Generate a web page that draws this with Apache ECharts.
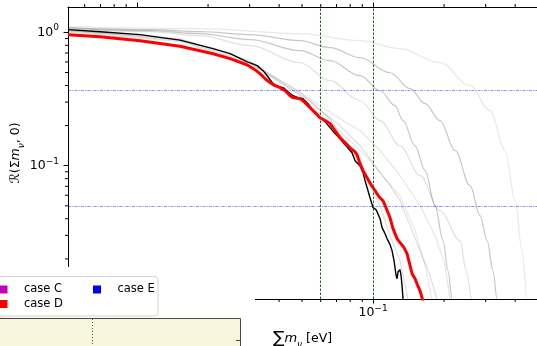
<!DOCTYPE html>
<html><head><meta charset="utf-8">
<script src="https://cdn.jsdelivr.net/npm/echarts@6/dist/echarts.min.js"></script>
<style>html,body{margin:0;padding:0;background:#fff}#c{width:537px;height:346px}</style>
</head><body><div id="c"></div>
<script>
// ---- data ----
const xMajorTicks = [0.01, 0.1];
const xMinorTicks = [0.006,0.007,0.008,0.009,0.02,0.03,0.04,0.05,0.06,0.07,0.08,0.09,0.2,0.3,0.4];
const yMajorTicks = [0.01, 0.1, 1];
const yMinorTicks = [0.02,0.03,0.04,0.05,0.06,0.07,0.08,0.09,0.2,0.3,0.4,0.5,0.6,0.7,0.8,0.9];
const hLineValues = [0.368, 0.05];
const vLineValues = [0.06, 0.1];
const legendCases = ['case C', 'case D', 'case E'];
const legendColors = ['#bf00bf', '#ff0000', '#0000ff'];

const blackCurve = [[0.0051,1.048],[0.00697,1.012],[0.0103,0.961],[0.0152,0.874],[0.021,0.755],[0.0248,0.692],[0.0292,0.603],[0.0323,0.563],[0.0342,0.516],[0.0356,0.473],[0.0377,0.412],[0.0396,0.392],[0.0416,0.385],[0.0436,0.359],[0.0458,0.335],[0.0481,0.324],[0.0505,0.318],[0.053,0.292],[0.0557,0.259],[0.0596,0.229],[0.0626,0.214],[0.0657,0.193],[0.069,0.174],[0.0725,0.159],[0.0768,0.141],[0.0815,0.125],[0.0839,0.109],[0.0855,0.105],[0.0881,0.1],[0.0907,0.0886],[0.0925,0.0772],[0.0952,0.0649],[0.0971,0.0575],[0.1,0.0484],[0.103,0.0468],[0.105,0.046],[0.1071,0.04],[0.1092,0.0343],[0.1124,0.0309],[0.1146,0.0284],[0.118,0.0256],[0.1204,0.023],[0.1227,0.0194],[0.1252,0.015],[0.1264,0.0142],[0.1276,0.016],[0.1301,0.0166],[0.1314,0.015],[0.1327,0.0126],[0.134,0.0099],[0.1353,0.0082]];

const redCurve = [[0.0051,0.961],[0.00697,0.928],[0.0103,0.866],[0.0152,0.788],[0.021,0.692],[0.0248,0.635],[0.0292,0.572],[0.0316,0.525],[0.0332,0.49],[0.0349,0.449],[0.0366,0.42],[0.0384,0.398],[0.0404,0.385],[0.0424,0.365],[0.0445,0.335],[0.0458,0.324],[0.0491,0.318],[0.0515,0.297],[0.0541,0.272],[0.0568,0.25],[0.0596,0.229],[0.0626,0.218],[0.0657,0.207],[0.069,0.183],[0.0725,0.162],[0.0761,0.149],[0.0799,0.136],[0.0839,0.127],[0.0855,0.121],[0.0881,0.1035],[0.0907,0.0918],[0.0943,0.0813],[0.0981,0.072],[0.102,0.0649],[0.106,0.0585],[0.1102,0.0546],[0.1135,0.0484],[0.118,0.0407],[0.1215,0.0337],[0.1264,0.0284],[0.1301,0.0265],[0.1353,0.0243],[0.1393,0.0219],[0.1435,0.0178],[0.1463,0.0155],[0.1507,0.0142],[0.1536,0.013],[0.1582,0.0115],[0.1613,0.0102],[0.1645,0.0089]];

const graySmoothA = [[0.0051,1.085],[0.01135,1.048],[0.0185,1.012],[0.0301,0.961],[0.0491,0.866],[0.0657,0.768],[0.0881,0.646],[0.118,0.498],[0.1435,0.378],[0.1661,0.292],[0.1922,0.218],[0.2226,0.13],[0.2576,0.0708],[0.2841,0.0422],[0.3042,0.0274],[0.3225,0.0163],[0.3353,0.0099],[0.34,0.008]];
const graySmoothB = [[0.0051,1.066],[0.01135,1.03],[0.0185,0.978],[0.0301,0.882],[0.0491,0.729],[0.0657,0.613],[0.0881,0.473],[0.1071,0.365],[0.1239,0.282],[0.134,0.218],[0.1507,0.141],[0.1661,0.0918],[0.1831,0.0501],[0.198,0.0274],[0.2078,0.0163],[0.2162,0.0099],[0.219,0.008]];
const graySmoothC = [[0.0051,1.048],[0.01135,1.012],[0.0185,0.944],[0.0301,0.795],[0.0491,0.592],[0.0657,0.434],[0.0881,0.307],[0.1071,0.218],[0.1301,0.141],[0.1582,0.0841],[0.1922,0.0459],[0.2338,0.0274],[0.2479,0.0163],[0.2627,0.0099],[0.266,0.008]];
const graySmoothD = [[0.0051,1.104],[0.0185,1.066],[0.0491,0.978],[0.0881,0.866],[0.1301,0.755],[0.1922,0.592],[0.2576,0.398],[0.3132,0.259],[0.3626,0.13],[0.3998,0.0546],[0.428,0.023],[0.4494,0.0099],[0.453,0.008]];
const grayWiggleA = [[0.0051,1.03],[0.0152,0.897],[0.0301,0.613],[0.0404,0.434],[0.0491,0.353],[0.0596,0.259],[0.0725,0.2],[0.0881,0.141],[0.102,0.1],[0.118,0.0708],[0.1301,0.0546],[0.1435,0.0355],[0.1582,0.023],[0.1744,0.015],[0.1867,0.0099],[0.19,0.008]];
const grayWiggleB = [[0.0051,1.012],[0.0152,0.866],[0.0301,0.582],[0.0445,0.398],[0.0596,0.282],[0.0725,0.225],[0.0881,0.183],[0.1071,0.13],[0.1301,0.0841],[0.1582,0.0501],[0.1831,0.0299],[0.2019,0.0178],[0.212,0.0099],[0.214,0.008]];
const grayWiggleC = [[0.0051,1.03],[0.0152,0.882],[0.0301,0.592],[0.0404,0.42],[0.0541,0.307],[0.0657,0.225],[0.0799,0.13],[0.0925,0.0841],[0.1071,0.0501],[0.118,0.0299],[0.1301,0.0194],[0.1407,0.0099],[0.143,0.008]];
const grayWiggleD = [[0.0051,0.995],[0.0152,0.852],[0.0332,0.534],[0.0491,0.335],[0.0657,0.21],[0.0799,0.154],[0.0971,0.109],[0.1124,0.0799],[0.1301,0.0593],[0.1507,0.0326],[0.1661,0.0178],[0.1778,0.0099],[0.18,0.008]];

const grayCurves = [
  {data: graySmoothD, a: 0.09, smooth: true},
  {data: graySmoothA, a: 0.22, smooth: true},
  {data: graySmoothB, a: 0.22, smooth: true},
  {data: graySmoothC, a: 0.12, smooth: true},
  {data: grayWiggleA, a: 0.13, smooth: false},
  {data: grayWiggleB, a: 0.10, smooth: false},
  {data: grayWiggleC, a: 0.12, smooth: false},
  {data: grayWiggleD, a: 0.09, smooth: false}
];

// ---- chart ----
const FONT = 'DejaVu Sans';
const X_MIN = 0.0051, X_MAX = 0.495, Y_MIN = 0.01, Y_MAX = 1.55;

function powLabel(v) {
  const e = Math.round(Math.log10(v));
  return '{b|10}{p|' + (e < 0 ? '\u2212' + (-e) : String(e)) + '}';
}
const tickRich = {
  b: {fontFamily: FONT, fontSize: 12.5, color: '#000', lineHeight: 18},
  p: {fontFamily: FONT, fontSize: 9, color: '#000', lineHeight: 9, verticalAlign: 'top'}
};

function logAxis(extra) {
  return Object.assign({
    type: 'log', logBase: 10, gridIndex: 0,
    splitLine: {show: false}, minorTick: {show: false}, minorSplitLine: {show: false}
  }, extra);
}
const lineBlack = {color: '#000', width: 1};

const xAxes = [
  logAxis({position: 'bottom', min: X_MIN, max: X_MAX,
    axisLine: {show: true, onZero: false, lineStyle: lineBlack},
    axisTick: {show: true, customValues: xMajorTicks, length: 4.5, lineStyle: lineBlack},
    axisLabel: {show: true, customValues: xMajorTicks, formatter: powLabel, margin: 5, rich: tickRich},
    name: '{s|\u2211}{i|m}{u|\u03bd}{t| [eV]}', nameLocation: 'middle', nameGap: 30, nameMoveOverlap: false,
    nameTextStyle: {rich: {
      s: {fontFamily: FONT, fontSize: 17, color: '#000', lineHeight: 20},
      i: {fontFamily: FONT, fontSize: 13, fontStyle: 'italic', color: '#000', lineHeight: 20},
      u: {fontFamily: FONT, fontSize: 9, fontStyle: 'italic', color: '#000', lineHeight: 8, verticalAlign: 'bottom'},
      t: {fontFamily: FONT, fontSize: 12.5, color: '#000', lineHeight: 20}
    }}}),
  logAxis({position: 'top', min: X_MIN, max: X_MAX,
    axisLine: {show: true, onZero: false, lineStyle: lineBlack},
    axisTick: {show: true, customValues: xMajorTicks, length: 4.5, lineStyle: lineBlack},
    axisLabel: {show: false}})
];

const yAxes = [
  logAxis({position: 'left', min: Y_MIN, max: Y_MAX,
    axisLine: {show: true, onZero: false, lineStyle: lineBlack},
    axisTick: {show: true, customValues: yMajorTicks, length: 4.5, lineStyle: lineBlack},
    axisLabel: {show: true, customValues: yMajorTicks, formatter: powLabel, margin: 9, rich: tickRich},
    name: '{r|\u211b}{t|(\u03a3}{i|m}{u|\u03bd}{t|, 0)}', nameLocation: 'middle', nameGap: 42, nameRotate: 90,
    nameMoveOverlap: false,
    nameTextStyle: {rich: {
      r: {fontFamily: FONT, fontSize: 13, color: '#000', lineHeight: 20},
      t: {fontFamily: FONT, fontSize: 12.5, color: '#000', lineHeight: 20},
      i: {fontFamily: FONT, fontSize: 12.5, fontStyle: 'italic', color: '#000', lineHeight: 20},
      u: {fontFamily: FONT, fontSize: 9, fontStyle: 'italic', color: '#000', lineHeight: 8, verticalAlign: 'bottom'}
    }}})
];

const series = [];
grayCurves.forEach((g) => {
  series.push({type: 'line', data: g.data, xAxisIndex: 0, yAxisIndex: 0, symbol: 'none', silent: true,
    smooth: g.smooth ? 0.35 : false, smoothMonotone: 'x',
    z: 2, lineStyle: {color: 'rgba(0,0,0,' + g.a + ')', width: 1.2}, clip: true});
});
series.push({type: 'line', name: 'hlines', data: [], symbol: 'none', silent: true, z: 1,
  color: 'rgba(0,0,255,0.5)',
  markLine: {symbol: ['none', 'none'], silent: true, label: {show: false}, animation: false,
    lineStyle: {color: 'rgba(0,0,255,0.45)', width: 1, type: [3, 1.2, 1, 1.2]},
    data: hLineValues.map(v => ({yAxis: v}))}});
series.push({type: 'line', name: 'vlines', data: [], symbol: 'none', silent: true, z: 1,
  color: '#1e6e1e',
  markLine: {symbol: ['none', 'none'], silent: true, label: {show: false}, animation: false,
    lineStyle: {color: '#1e6e1e', width: 1, type: [2.5, 1.5]},
    data: vLineValues.map(v => ({xAxis: v}))}});
series.push({type: 'line', name: 'black', data: blackCurve, symbol: 'none', silent: true, z: 3,
  lineStyle: {color: '#000', width: 1.4}, clip: true});
series.push({type: 'line', name: 'red', data: redCurve, symbol: 'none', silent: true, z: 4,
  lineStyle: {color: '#ff0000', width: 3}, clip: true});

// minor ticks as tiny rect symbols placed through the axes' scales
const tickSeries = (data, size, offset) => ({
  type: 'scatter', data: data, symbol: 'rect', symbolSize: size, symbolOffset: offset,
  silent: true, clip: false, z: 5, itemStyle: {color: '#000', opacity: 1}, emphasis: {disabled: true}
});
series.push(tickSeries(xMinorTicks.map(v => [v, Y_MIN]), [1, 3], [0, 1.5]));
series.push(tickSeries(xMinorTicks.map(v => [v, Y_MAX]), [1, 3], [0, -1.5]));
series.push(tickSeries(yMinorTicks.map(v => [X_MIN, v]), [3, 1], [-1.5, 0]));

legendCases.forEach((n, i) => {
  series.push({type: 'scatter', name: n, data: [], itemStyle: {color: legendColors[i], opacity: 1}});
});

const legendCommon = {
  orient: 'vertical', padding: 0, itemGap: 1.5, itemWidth: 31, itemHeight: 8,
  icon: 'path://M0,0H8V8H0Z', selectedMode: false, z: 120,
  itemStyle: {opacity: 1},
  textStyle: {fontFamily: FONT, fontSize: 11.5, color: '#000', lineHeight: 13}
};

const chart = echarts.init(document.getElementById('c'), null, {renderer: 'canvas'});
chart.setOption({
  animation: false,
  backgroundColor: '#fff',
  grid: {left: 68, top: 7, width: 469, height: 292, containLabel: false, outerBoundsMode: 'none'},
  xAxis: xAxes,
  yAxis: yAxes,
  legend: [
    Object.assign({}, legendCommon, {data: [legendCases[0], legendCases[1]], left: -0.5, top: 283}),
    Object.assign({}, legendCommon, {data: [legendCases[2]], left: 93, top: 283})
  ],
  graphic: [
    {type: 'rect', shape: {x: 0, y: 267, width: 255, height: 80}, style: {fill: '#fff'}, z: 100},
    {type: 'rect', shape: {x: -10, y: 276.5, width: 168, height: 39.5, r: 3}, style: {fill: '#fff', stroke: '#d2d2d2', lineWidth: 1}, z: 101},
    {type: 'rect', shape: {x: -10, y: 318.5, width: 250.5, height: 40}, style: {fill: '#f9f4dc', stroke: '#4a4a4a', lineWidth: 1}, z: 101},
    {type: 'line', shape: {x1: 92.5, y1: 319, x2: 92.5, y2: 346}, style: {stroke: '#555', lineDash: [1, 2], lineWidth: 1}, z: 102},
    {type: 'line', shape: {x1: 236, y1: 340.5, x2: 240, y2: 340.5}, style: {stroke: '#444', lineWidth: 1}, z: 102}
  ],
  series: series
});
</script>
</body></html>
